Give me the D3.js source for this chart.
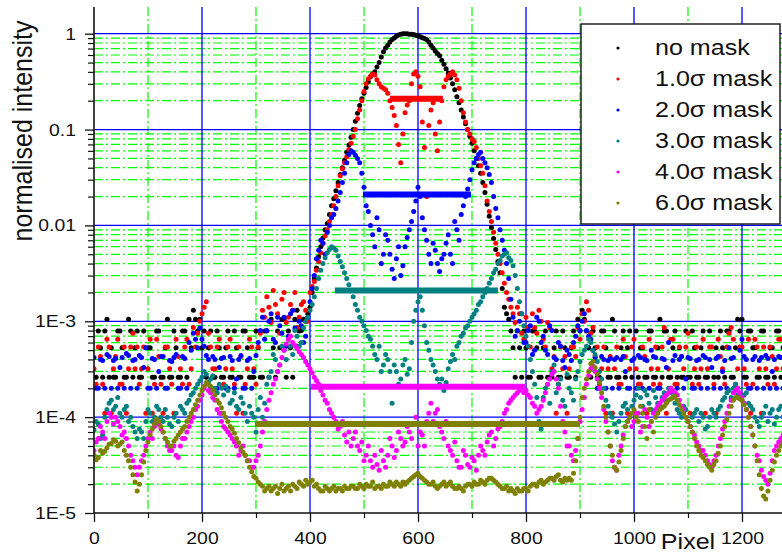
<!DOCTYPE html>
<html>
<head>
<meta charset="utf-8">
<script src="https://cdn.jsdelivr.net/npm/d3@7"></script>
<style>
  body { margin: 0; background: #fff; }
  text { font-family: "Liberation Sans", Arial, sans-serif; fill: #111; }
</style>
</head>
<body>
<div id="chart"></div>
<script>

// Pixel spacing between samples: "A" arrays sit at 0, 8, 16 ... 1280,
// "B" arrays sit half a step later at 4, 12, 20 ... 1276
const step = 8;

// no mask
const noMask = [
  2.6e-4, 7.9e-4, 2.6e-4, 1.05e-3, 5.3e-4, 2.6e-4, 7.9e-4, 2.6e-4, 1.05e-3, 2.6e-4,
  7.9e-4, 2.6e-4, null, 5.3e-4, 2.6e-4, 7.9e-4, 2.6e-4, 1.05e-3, 2.6e-4, 5.3e-4,
  2.6e-4, 7.9e-4, 1.05e-3, 1.3e-3, 7.9e-4, 5.3e-4, 2.6e-4, 7.9e-4, 2.6e-4, 5.3e-4,
  2.6e-4, 7.9e-4, 2.6e-4, 5.3e-4, 2.6e-4, 7.9e-4, 2.6e-4, 2.6e-4, 5.3e-4, 2.6e-4,
  7.9e-4, 1.05e-3, 2.6e-4, 5.3e-4, 1.05e-3, 7.9e-4, 2.6e-4, 1.3e-3, 8e-4, 1.0e-3,
  1.4e-3, 2.8e-3, 4.7e-3, 7.4e-3, 0.0105, 0.016, 0.023, 0.034, 0.048, 0.069,
  0.1, 0.148, 0.21, 0.275, 0.355, 0.40, 0.5, 0.65, 0.76, 0.87,
  0.94, 0.99, 1.0, 0.99, 0.98, 0.95, 0.91, 0.87, 0.76, 0.66,
  0.59, 0.48, 0.39, 0.30, 0.22, 0.16, 0.115, 0.085, 0.06, 0.042,
  0.028, 0.0166, 0.0095, 5.6e-3, 3.2e-3, 1.4e-3, 1.05e-3, 5.3e-4, 7.9e-4, 2.6e-4,
  5.3e-4, 2.6e-4, 7.9e-4, 2.6e-4, 5.3e-4, 2.6e-4, 2.6e-4, 7.9e-4, 2.6e-4, 5.3e-4,
  2.6e-4, 7.9e-4, 1.05e-3, 1.3e-3, 7.9e-4, 2.6e-4, 5.3e-4, 2.6e-4, 7.9e-4, 2.6e-4,
  1.05e-3, 2.6e-4, 5.3e-4, 2.6e-4, 7.9e-4, null, 2.6e-4, 5.3e-4, 2.6e-4, 7.9e-4,
  2.6e-4, 1.05e-3, 7.9e-4, 2.6e-4, 5.3e-4, 2.6e-4, 2.6e-4, 7.9e-4, 2.6e-4, 5.3e-4,
  2.6e-4, 7.9e-4, 2.6e-4, null, 5.3e-4, 7.9e-4, 2.6e-4, 7.9e-4, 2.6e-4, 1.05e-3,
  1.05e-3, 2.6e-4, 7.9e-4, 5.3e-4, 2.6e-4, 7.9e-4, 2.6e-4, 5.3e-4, 7.9e-4, 2.6e-4,
  5.3e-4
];
const noMaskB = [
  2.6e-4, 5.3e-4, 7.9e-4, 2.6e-4, 2.6e-4, 7.9e-4, 5.3e-4, 2.6e-4, 7.9e-4, 5.3e-4,
  2.6e-4, 7.9e-4, 5.3e-4, 2.6e-4, 7.9e-4, 2.6e-4, 5.3e-4, 2.6e-4, 7.9e-4, 2.6e-4,
  7.9e-4, 2.6e-4, 5.3e-4, 1.05e-3, 1.05e-3, 7.9e-4, 5.3e-4, 2.6e-4, 7.9e-4, 2.6e-4,
  5.3e-4, 2.6e-4, 7.9e-4, 2.6e-4, 7.9e-4, 5.3e-4, 2.6e-4, 7.9e-4, 2.6e-4, 7.9e-4,
  2.6e-4, 5.3e-4, 7.9e-4, 1.05e-3, 2.6e-4, 5.3e-4, 1.05e-3, 7.9e-4, 1.05e-3, 1.2e-3,
  2e-3, 3.6e-3, 6e-3, 9e-3, 0.013, 0.019, 0.028, 0.04, 0.058, 0.083,
  0.122, 0.178, 0.24, 0.315, 0.38, 0.45, 0.57, 0.71, 0.82, 0.905,
  0.97, 1.0, 1.0, 0.99, 0.965, 0.93, 0.89, 0.82, 0.71, 0.62,
  0.53, 0.43, 0.345, 0.26, 0.19, 0.135, 0.1, 0.072, 0.05, 0.035,
  0.022, 0.0125, 7.3e-3, 4.2e-3, 2.2e-3, 1.2e-3, 7.9e-4, 2.6e-4, 5.3e-4, 7.9e-4,
  2.6e-4, 7.9e-4, 5.3e-4, 2.6e-4, 7.9e-4, 2.6e-4, 5.3e-4, 2.6e-4, 7.9e-4, 2.6e-4,
  5.3e-4, 2.6e-4, 7.9e-4, 1.05e-3, 5.3e-4, 7.9e-4, 2.6e-4, 7.9e-4, 5.3e-4, 2.6e-4,
  7.9e-4, 2.6e-4, 7.9e-4, 5.3e-4, 2.6e-4, 7.9e-4, 5.3e-4, 2.6e-4, 7.9e-4, 2.6e-4,
  5.3e-4, 2.6e-4, 7.9e-4, 2.6e-4, 7.9e-4, 5.3e-4, 2.6e-4, 2.6e-4, 7.9e-4, 2.6e-4,
  5.3e-4, 2.6e-4, 7.9e-4, 2.6e-4, 2.6e-4, 5.3e-4, 7.9e-4, 2.6e-4, 5.3e-4, 7.9e-4,
  2.6e-4, 7.9e-4, 5.3e-4, 2.6e-4, 7.9e-4, 2.6e-4, 5.3e-4, 2.6e-4, 7.9e-4, 5.3e-4
];

// 1.0 sigma mask
const mask1 = [
  3.2e-4, 5.4e-4, 2.2e-4, 6.5e-4, 1.1e-4, 4.3e-4, 2.2e-4, 5.4e-4, 3.2e-4, 7.5e-4,
  5.4e-4, 3.2e-4, 1.1e-4, 6.5e-4, 2.2e-4, 4.3e-4, 1.1e-4, 5.4e-4, 2.2e-4, 6.5e-4,
  3.2e-4, 5.4e-4, 2.2e-4, 8.6e-4, 7.5e-4, 1.2e-3, 1.6e-3, 5.4e-4, 3.2e-4, 6.5e-4,
  2.2e-4, 5.4e-4, 3.2e-4, 1.1e-4, 4.3e-4, 2.2e-4, 6.5e-4, 3.2e-4, 5.4e-4, 1.3e-3,
  1.8e-3, 9.7e-4, 1.5e-3, 7.5e-4, 2.0e-3, 1.1e-3, 1.3e-3, 8.6e-4, 1.5e-3, 1.3e-3,
  2.0e-3, 2.6e-3, 4.2e-3, 6.5e-3, 9.0e-3, 0.013, 0.02, 0.033, 0.045, 0.062,
  0.085, 0.13, 0.2, 0.3, 0.36, 0.37, 0.3, 0.27, 0.24, 0.17,
  0.11, 0.045, 0.15, 0.2, 0.38, 0.36, 0.12, 0.02, 0.16, 0.09,
  0.12, 0.28, 0.36, 0.4, 0.33, 0.2, 0.12, 0.09, 0.075, 0.05,
  0.035, 0.018, 0.011, 6.5e-3, 4e-3, 2.5e-3, 1.7e-3, 1.2e-3, 1.4e-3, 7.5e-4,
  1.1e-3, 5.4e-4, 8.6e-4, 1.3e-3, 6.5e-4, 9.7e-4, 3.2e-4, 1.1e-4, 5.4e-4, 4.3e-4,
  3.2e-4, 5.4e-4, 8.6e-4, 1.2e-3, 1.6e-3, 7.5e-4, 4.3e-4, 2.2e-4, 5.4e-4, 3.2e-4,
  1.1e-4, 5.4e-4, 2.2e-4, 4.3e-4, 3.2e-4, 6.5e-4, 2.2e-4, 5.4e-4, 1.1e-4, 3.2e-4,
  5.4e-4, 2.2e-4, 8.6e-4, 3.2e-4, 6.5e-4, 2.2e-4, 4.3e-4, 5.4e-4, 1.1e-4, 3.2e-4,
  2.2e-4, 6.5e-4, 3.2e-4, 5.4e-4, 1.1e-4, 4.3e-4, 2.2e-4, 7.5e-4, 6.5e-4, 3.2e-4,
  5.4e-4, 2.2e-4, 1.1e-4, 6.5e-4, 3.2e-4, 5.4e-4, 2.2e-4, 4.3e-4, 3.2e-4, 6.5e-4,
  2.2e-4
];
const mask1B = [
  2.2e-4, 4.3e-4, 1.1e-4, 5.4e-4, 3.2e-4, 6.5e-4, 2.2e-4, 1.1e-4, 5.4e-4, 3.2e-4,
  2.2e-4, 5.4e-4, 3.2e-4, 1.1e-4, 6.5e-4, 2.2e-4, 5.4e-4, 3.2e-4, 1.1e-4, 4.3e-4,
  2.2e-4, 6.5e-4, 3.2e-4, 5.4e-4, 1.0e-3, 1.4e-3, 7.5e-4, 3.2e-4, 5.4e-4, 1.1e-4,
  3.2e-4, 6.5e-4, 2.2e-4, 5.4e-4, 1.1e-4, 3.2e-4, 5.4e-4, 2.2e-4, 7.5e-4, 1.1e-3,
  1.4e-3, 2.1e-3, 1.2e-3, 1.7e-3, 9.7e-4, 1.5e-3, 2.0e-3, 1.1e-3, 1.6e-3, 1.0e-3,
  2.3e-3, 3.4e-3, 5.2e-3, 7.8e-3, 0.011, 0.016, 0.026, 0.039, 0.052, 0.072,
  0.1, 0.16, 0.25, 0.34, 0.38, 0.33, 0.28, 0.26, 0.2, 0.14,
  0.07, 0.09, 0.18, 0.3, 0.4, 0.28, 0.065, 0.11, 0.19, 0.06,
  0.2, 0.33, 0.38, 0.37, 0.27, 0.15, 0.1, 0.08, 0.065, 0.042,
  0.026, 0.014, 8.5e-3, 5e-3, 3.2e-3, 2e-3, 1.4e-3, 9.7e-4, 1.2e-3, 6.5e-4,
  8.6e-4, 1.2e-3, 7.5e-4, 1.0e-3, 5.4e-4, 8.6e-4, 4.3e-4, 2.2e-4, 3.2e-4, 1.1e-4,
  5.4e-4, 4.3e-4, 6.5e-4, 1.0e-3, 1.3e-3, 8.6e-4, 5.4e-4, 3.2e-4, 1.1e-4, 4.3e-4,
  3.2e-4, 2.2e-4, 6.5e-4, 1.1e-4, 5.4e-4, 3.2e-4, 2.2e-4, 4.3e-4, 6.5e-4, 2.2e-4,
  3.2e-4, 5.4e-4, 1.1e-4, 6.5e-4, 2.2e-4, 5.4e-4, 3.2e-4, 7.5e-4, 2.2e-4, 5.4e-4,
  3.2e-4, 1.1e-4, 5.4e-4, 2.2e-4, 6.5e-4, 3.2e-4, 5.4e-4, 8.6e-4, 2.2e-4, 5.4e-4,
  3.2e-4, 6.5e-4, 2.2e-4, 5.4e-4, 1.1e-4, 3.2e-4, 5.4e-4, 2.2e-4, 6.5e-4, 3.2e-4
];

// 2.0 sigma mask
const mask2 = [
  4.2e-4, 2.0e-4, 3.9e-4, 4.5e-4, 2.0e-4, 4.1e-4, 3.3e-4, 2.0e-4, 4.4e-4, 3.9e-4,
  2.0e-4, 4.2e-4, 5.3e-4, 2.0e-4, 4.0e-4, 3.0e-4, 4.3e-4, 2.0e-4, 3.8e-4, 4.5e-4,
  2.0e-4, 4.1e-4, 6.0e-4, 7.5e-4, 5.3e-4, 6.5e-4, 4.4e-4, 2.0e-4, 4.0e-4, 3.3e-4,
  4.2e-4, 2.0e-4, 3.9e-4, 2.5e-4, 4.4e-4, 2.0e-4, 4.1e-4, 3.0e-4, 6.0e-4, 1.1e-3,
  8.0e-4, 1.2e-3, 6.0e-4, 9.0e-4, 1.1e-3, 7.0e-4, 1.3e-3, 5.5e-4, 9e-4, 7e-4,
  1.6e-3, 3e-3, 5.5e-3, 6.5e-3, 8.5e-3, 0.012, 0.015, 0.022, 0.035, 0.055,
  0.058, 0.05, 0.035, 0.016, 0.01, 0.006, 0.009, 0.005, 0.007, 0.0035,
  0.0045, 0.003, 0.006, 0.009, 0.014, 0.025, 0.012, 0.007, 0.004, 0.0055,
  0.0033, 0.005, 0.008, 0.004, 0.009, 0.013, 0.02, 0.03, 0.045, 0.055,
  0.05, 0.04, 0.028, 0.015, 0.009, 0.0055, 0.0028, 1.1e-3, 8e-4, 1.2e-3,
  6e-4, 9e-4, 5e-4, 1.0e-3, 7e-4, 4.5e-4, 8e-4, 4e-4, 5.5e-4, 3.3e-4,
  4.5e-4, 6e-4, 9e-4, 1.0e-3, 8e-4, 6.5e-4, 4.2e-4, 2.0e-4, 4.0e-4, 3.9e-4,
  2.0e-4, 4.2e-4, 4.0e-4, 3.0e-4, 2.0e-4, 4.1e-4, 4.4e-4, 2.0e-4, 3.9e-4, 5.0e-4,
  4.2e-4, 2.0e-4, 4.0e-4, 6.0e-4, 3.9e-4, 2.0e-4, 4.3e-4, 2.5e-4, 4.1e-4, 2.0e-4,
  4.0e-4, 4.4e-4, 2.0e-4, 3.3e-4, 4.1e-4, 2.0e-4, 3.9e-4, 5.3e-4, 4.2e-4, 2.0e-4,
  6.5e-4, 4.0e-4, 2.0e-4, 4.3e-4, 3.9e-4, 2.0e-4, 4.1e-4, 3.0e-4, 2.0e-4, 4.2e-4,
  2.0e-4
];
const mask2B = [
  2.0e-4, 4.0e-4, 2.0e-4, 4.3e-4, 3.9e-4, 2.0e-4, 4.2e-4, 4.6e-4, 2.0e-4, 4.0e-4,
  4.4e-4, 3.3e-4, 2.0e-4, 4.1e-4, 2.0e-4, 4.3e-4, 2.0e-4, 3.9e-4, 4.2e-4, 2.0e-4,
  4.3e-4, 2.0e-4, 5.0e-4, 6.5e-4, 8.5e-4, 5.5e-4, 4.0e-4, 4.3e-4, 2.0e-4, 4.1e-4,
  2.0e-4, 4.3e-4, 2.0e-4, 4.0e-4, 2.0e-4, 3.9e-4, 2.0e-4, 4.4e-4, 8.0e-4, 6.5e-4,
  1.0e-3, 6.5e-4, 1.1e-3, 7.5e-4, 5.5e-4, 1.2e-3, 8.5e-4, 1.0e-3, 6.0e-4, 1.1e-3,
  2.2e-3, 4.5e-3, 7e-3, 5e-3, 0.01, 0.013, 0.018, 0.028, 0.045, 0.06,
  0.054, 0.045, 0.025, 0.014, 0.008, 0.012, 0.004, 0.008, 0.005, 0.0028,
  0.006, 0.0038, 0.0075, 0.011, 0.018, 0.02, 0.009, 0.005, 0.0065, 0.004,
  0.0045, 0.0065, 0.005, 0.011, 0.007, 0.016, 0.024, 0.038, 0.05, 0.058,
  0.045, 0.034, 0.02, 0.012, 0.007, 0.004, 0.0017, 7e-4, 1.0e-3, 6e-4,
  8e-4, 4.5e-4, 1.1e-3, 6e-4, 5e-4, 9e-4, 4.2e-4, 6e-4, 3.9e-4, 5e-4,
  3.9e-4, 7e-4, 8e-4, 1.2e-3, 7e-4, 5e-4, 2.0e-4, 4.3e-4, 2.0e-4, 4.1e-4,
  4.0e-4, 2.0e-4, 4.3e-4, 2.0e-4, 3.9e-4, 2.0e-4, 4.2e-4, 4.0e-4, 2.0e-4, 4.3e-4,
  2.0e-4, 4.1e-4, 3.3e-4, 2.0e-4, 4.4e-4, 4.0e-4, 2.0e-4, 4.2e-4, 2.0e-4, 3.9e-4,
  2.0e-4, 4.2e-4, 4.0e-4, 2.0e-4, 4.3e-4, 3.0e-4, 2.0e-4, 4.1e-4, 2.0e-4, 5.0e-4,
  4.3e-4, 2.0e-4, 4.0e-4, 2.0e-4, 4.2e-4, 4.4e-4, 2.0e-4, 4.0e-4, 4.3e-4, 2.0e-4
];

// 3.0 sigma mask
const mask3 = [
  7.4e-5, 8.5e-5, 6.5e-5, 1.2e-4, 1.5e-4, 1.3e-4, 1.1e-4, 1.2e-4, 9e-5, 8e-5,
  6e-5, 7e-5, 9e-5, 1.1e-4, 1.0e-4, 1.2e-4, 9e-5, 1.0e-4, 8e-5, 1.1e-4,
  1.3e-4, 1.1e-4, 1.5e-4, 1.8e-4, 2.2e-4, 2.6e-4, 2.8e-4, 2.5e-4, 2.0e-4, 2.2e-4,
  1.7e-4, 1.9e-4, 1.5e-4, 1.3e-4, 1.6e-4, 1.1e-4, 1.3e-4, 1.0e-4, 1.2e-4, 1.0e-4,
  2.2e-4, 3e-4, 4e-4, 3.5e-4, 5e-4, 6.5e-4, 4.5e-4, 7e-4, 6e-4, 1.0e-3,
  1.3e-3, 1.8e-3, 2.8e-3, 4e-3, 5.2e-3, 6e-3, 5.5e-3, 4.2e-3, 3.2e-3, 2.4e-3,
  1.8e-3, 1.3e-3, 1.0e-3, 8e-4, 6.5e-4, 4.5e-4, 5.5e-4, 3.5e-4, 4e-4, 1.4e-4,
  3e-4, 2.5e-4, 4e-4, 3.2e-4, 1.0e-3, 1.6e-3, 1.3e-3, 6e-4, 4e-4, 3e-4,
  2.2e-4, 1.9e-4, 3.2e-4, 4.5e-4, 5.5e-4, 7e-4, 8.5e-4, 1.0e-3, 1.2e-3, 1.5e-3,
  1.8e-3, 2.2e-3, 2.8e-3, 3.5e-3, 4.3e-3, 5e-3, 4.6e-3, 3.8e-3, 2.2e-3, 1.2e-3,
  7e-4, 4e-4, 2.2e-4, 9e-5, 1.6e-4, 2.2e-4, 3e-4, 1.8e-4, 2.5e-4, 1.3e-4,
  2e-4, 1.5e-4, 3e-4, 4.5e-4, 5.5e-4, 6e-4, 4.5e-4, 3e-4, 2e-4, 1.3e-4,
  1.0e-4, 7e-5, 1.1e-4, 1.4e-4, 1.0e-4, 1.5e-4, 2e-4, 1.3e-4, 1.7e-4, 1.2e-4,
  1.6e-4, 1.3e-4, 1.8e-4, 2e-4, 1.6e-4, 1.2e-4, 1.0e-4, 1.2e-4, 8e-5, 1.1e-4,
  9e-5, 1.0e-4, 8e-5, 1.2e-4, 1.0e-4, 1.3e-4, 1.6e-4, 1.9e-4, 2e-4, 1.7e-4,
  1.5e-4, 1.8e-4, 1.3e-4, 1.0e-4, 8e-5, 1.1e-4, 9e-5, 1.2e-4, 1.0e-4, 1.3e-4,
  1.1e-4
];
const mask3B = [
  9e-5, 6e-5, 1.0e-4, 1.4e-4, 1.2e-4, 1.6e-4, 1.0e-4, 1.3e-4, 1.0e-4, 7e-5,
  7.5e-5, 6e-5, 1.2e-4, 9e-5, 1.3e-4, 1.0e-4, 1.2e-4, 8.5e-5, 1.0e-4, 9e-5,
  1.2e-4, 1.4e-4, 1.7e-4, 2e-4, 2.4e-4, 3e-4, 2.3e-4, 2.7e-4, 1.8e-4, 2e-4,
  2.1e-4, 1.4e-4, 1.8e-4, 1.2e-4, 1.4e-4, 9e-5, 1.1e-4, 7e-5, 1.6e-4, 1.4e-4,
  2.6e-4, 4.5e-4, 3e-4, 5.5e-4, 4e-4, 5.5e-4, 8e-4, 5.5e-4, 8.5e-4, 1.1e-3,
  1.5e-3, 2.2e-3, 3.4e-3, 4.6e-3, 5.6e-3, 5.8e-3, 4.8e-3, 3.7e-3, 2.8e-3, 2.1e-3,
  1.5e-3, 1.1e-3, 9e-4, 7e-4, 5.5e-4, 4e-4, 3e-4, 4.5e-4, 3e-4, 3.5e-4,
  2.2e-4, 3.5e-4, 2.8e-4, 6e-4, 1.3e-3, 1.8e-3, 9e-4, 5e-4, 3.5e-4, 2.5e-4,
  2.5e-4, 2.3e-4, 3.8e-4, 4e-4, 6e-4, 7.5e-4, 9e-4, 1.1e-3, 1.3e-3, 1.6e-3,
  2.0e-3, 2.5e-3, 3.2e-3, 4e-3, 4.8e-3, 5.2e-3, 4.3e-3, 3e-3, 1.6e-3, 9e-4,
  5.5e-4, 3e-4, 1.6e-4, 7.5e-5, 2e-4, 1.4e-4, 3.5e-4, 2.2e-4, 1.5e-4, 2.8e-4,
  1.8e-4, 2.5e-4, 3.8e-4, 5e-4, 6.5e-4, 5e-4, 3.8e-4, 2.5e-4, 1.5e-4, 1.1e-4,
  8.5e-5, 9e-5, 1.3e-4, 1.2e-4, 1.3e-4, 1.7e-4, 1.6e-4, 1.9e-4, 1.4e-4, 1.9e-4,
  1.4e-4, 1.6e-4, 1.5e-4, 1.8e-4, 1.4e-4, 1.1e-4, 1.3e-4, 9e-5, 1.0e-4, 1.2e-4,
  1.1e-4, 7.5e-5, 1.0e-4, 1.1e-4, 1.2e-4, 1.5e-4, 1.8e-4, 1.6e-4, 2.2e-4, 1.6e-4,
  1.7e-4, 1.4e-4, 1.2e-4, 9e-5, 1.0e-4, 1.3e-4, 1.1e-4, 8.5e-5, 1.2e-4, 1.0e-4
];

// 4.0 sigma mask
const mask4 = [
  4.5e-5, 6e-5, 7e-5, 9e-5, 1.0e-4, 1.0e-4, 8e-5, 7e-5, 5e-5, 3.5e-5,
  2.5e-5, 3.5e-5, 5e-5, 7e-5, 8e-5, 8.5e-5, 7e-5, 5e-5, 4.5e-5, 4e-5,
  5e-5, 6e-5, 8e-5, 1.0e-4, 1.3e-4, 1.7e-4, 2.2e-4, 1.8e-4, 1.5e-4, 1.1e-4,
  8e-5, 7e-5, 6e-5, 5e-5, 4.5e-5, 4e-5, 3.5e-5, 3e-5, 4e-5, 7e-5,
  1.2e-4, 1.8e-4, 2.5e-4, 3.5e-4, 5e-4, 6.5e-4, 6e-4, 5.2e-4, 4.5e-4, 3.8e-4,
  3.2e-4, 2.6e-4, 2.2e-4, 1.7e-4, 1.4e-4, 1.1e-4, 9e-5, 8e-5, 6.5e-5, 7e-5,
  6e-5, 5e-5, 5.5e-5, 4e-5, 3.5e-5, 4e-5, 2.8e-5, 3.5e-5, 4e-5, 5e-5,
  4.5e-5, 6e-5, 5.5e-5, 7e-5, 8.5e-5, 5e-5, 6.5e-5, 9e-5, 1.4e-4, 1.1e-4,
  8e-5, 6e-5, 5e-5, 4e-5, 3.5e-5, 3e-5, 4e-5, 3e-5, 3.5e-5, 4e-5,
  4.5e-5, 5.5e-5, 7e-5, 6e-5, 8e-5, 1.1e-4, 1.4e-4, 1.6e-4, 1.8e-4, 2.0e-4,
  1.9e-4, 1.6e-4, 1.3e-4, 1.2e-4, 1.5e-4, 2.2e-4, 2.8e-4, 2.5e-4, 1.3e-4, 7e-5,
  5e-5, 3.5e-5, 6e-5, 1.2e-4, 2.2e-4, 3.2e-4, 3e-4, 2e-4, 1.2e-4, 7e-5,
  3.5e-5, 2.8e-5, 5e-5, 8e-5, 1.0e-4, 9e-5, 1.1e-4, 8e-5, 1.0e-4, 9e-5,
  1.2e-4, 1.4e-4, 1.6e-4, 1.8e-4, 1.9e-4, 1.7e-4, 1.3e-4, 1.0e-4, 8e-5, 6.5e-5,
  5e-5, 4.5e-5, 3.5e-5, 3e-5, 4e-5, 6e-5, 9e-5, 1.3e-4, 1.8e-4, 2e-4,
  1.6e-4, 1.2e-4, 8e-5, 5e-5, 3.5e-5, 2.4e-5, 2e-5, 3.5e-5, 5e-5, 6e-5,
  7e-5
];
const mask4B = [
  5.5e-5, 8e-5, 6e-5, 1.1e-4, 8.5e-5, 9e-5, 6.5e-5, 6e-5, 4e-5, 3e-5,
  3e-5, 4e-5, 6e-5, 6e-5, 9e-5, 7.5e-5, 6e-5, 4.5e-5, 5e-5, 3.8e-5,
  6e-5, 7e-5, 9e-5, 1.2e-4, 1.5e-4, 2e-4, 1.9e-4, 1.6e-4, 1.2e-4, 9e-5,
  7.5e-5, 6.5e-5, 5.5e-5, 4e-5, 5e-5, 3.5e-5, 3e-5, 3.5e-5, 5e-5, 9e-5,
  1.5e-4, 2.2e-4, 3e-4, 4.2e-4, 5.8e-4, 7e-4, 5.6e-4, 4.8e-4, 4.2e-4, 3.5e-4,
  2.9e-4, 2.4e-4, 1.9e-4, 1.5e-4, 1.2e-4, 1.0e-4, 7.5e-5, 9e-5, 5.5e-5, 5e-5,
  7e-5, 4.5e-5, 3.5e-5, 5e-5, 3e-5, 3.2e-5, 4.5e-5, 3e-5, 6e-5, 3.8e-5,
  7e-5, 5e-5, 8e-5, 6e-5, 1.0e-4, 7e-5, 5e-5, 1.1e-4, 9e-5, 1.2e-4,
  7e-5, 9e-5, 4.5e-5, 5.5e-5, 3e-5, 4.5e-5, 3.2e-5, 3.8e-5, 2.8e-5, 5e-5,
  4e-5, 6.5e-5, 5e-5, 7.5e-5, 9e-5, 1.2e-4, 1.5e-4, 1.7e-4, 1.9e-4, 1.8e-4,
  1.7e-4, 1.4e-4, 1.1e-4, 1.3e-4, 1.8e-4, 2.5e-4, 3e-4, 2e-4, 9e-5, 5e-5,
  4e-5, 4.5e-5, 9e-5, 1.6e-4, 2.7e-4, 3.4e-4, 2.5e-4, 1.6e-4, 9e-5, 5e-5,
  3e-5, 4e-5, 6.5e-5, 9e-5, 8e-5, 1.1e-4, 7e-5, 1.2e-4, 8e-5, 1.1e-4,
  1.3e-4, 1.5e-4, 1.7e-4, 2e-4, 1.8e-4, 1.5e-4, 1.2e-4, 9e-5, 7e-5, 5.5e-5,
  4.5e-5, 4e-5, 3.2e-5, 3.5e-5, 5e-5, 7.5e-5, 1.1e-4, 1.5e-4, 1.9e-4, 1.8e-4,
  1.4e-4, 1.0e-4, 6.5e-5, 4e-5, 2.8e-5, 2.2e-5, 2.6e-5, 4.5e-5, 5.5e-5, 6.5e-5
];

// 6.0 sigma mask
const mask6 = [
  4e-5, 3.8e-5, 4.2e-5, 4.8e-5, 5.3e-5, 5.6e-5, 5.2e-5, 4.5e-5, 3.5e-5, 2.5e-5,
  1.7e-5, 2.5e-5, 4.5e-5, 6.5e-5, 8.5e-5, 9e-5, 7e-5, 5.5e-5, 5e-5, 6e-5,
  7e-5, 8e-5, 1.0e-4, 1.2e-4, 1.5e-4, 1.9e-4, 2.3e-4, 2.1e-4, 1.7e-4, 1.4e-4,
  1.1e-4, 9e-5, 7.5e-5, 6e-5, 4.8e-5, 4e-5, 3e-5, 2.4e-5, 2.1e-5, 1.9e-5,
  1.8e-5, 1.7e-5, 1.9e-5, 1.8e-5, 1.7e-5, 1.9e-5, 2.0e-5, 1.8e-5, 2.0e-5, 2.2e-5,
  2.1e-5, 1.9e-5, 1.8e-5, 1.7e-5, 1.8e-5, 1.8e-5, 1.7e-5, 1.8e-5, 1.9e-5, 1.8e-5,
  1.9e-5, 1.8e-5, 1.9e-5, 2.0e-5, 1.9e-5, 1.8e-5, 1.9e-5, 2.0e-5, 1.9e-5, 2.0e-5,
  2.1e-5, 1.9e-5, 2.0e-5, 2.2e-5, 2.4e-5, 2.6e-5, 2.3e-5, 2.1e-5, 2.0e-5, 1.9e-5,
  1.9e-5, 2.1e-5, 2.0e-5, 1.9e-5, 1.8e-5, 1.8e-5, 1.9e-5, 2.0e-5, 2.1e-5, 2.0e-5,
  2.1e-5, 2.2e-5, 2.3e-5, 2.1e-5, 1.9e-5, 1.8e-5, 1.7e-5, 1.7e-5, 1.8e-5, 1.7e-5,
  1.8e-5, 1.9e-5, 2.0e-5, 2.1e-5, 2.0e-5, 2.2e-5, 2.3e-5, 2.4e-5, 2.2e-5, 2.3e-5,
  2.3e-5, 2.6e-5, 6e-5, 1.6e-4, 2.5e-4, 3.6e-4, 3.3e-4, 2.3e-4, 1.3e-4, 7e-5,
  4e-5, 2.8e-5, 4.5e-5, 8e-5, 1.0e-4, 1.2e-4, 9e-5, 1.1e-4, 6e-5, 9e-5,
  1.0e-4, 1.2e-4, 1.3e-4, 1.5e-4, 1.6e-4, 1.5e-4, 1.2e-4, 1.0e-4, 8e-5, 6e-5,
  4.5e-5, 3.8e-5, 3.2e-5, 2.8e-5, 3.5e-5, 5e-5, 8e-5, 1.1e-4, 1.5e-4, 1.6e-4,
  1.5e-4, 1.2e-4, 8e-5, 5e-5, 2.5e-5, 1.5e-5, 1.7e-5, 2.8e-5, 4e-5, 5e-5,
  6e-5
];
const mask6B = [
  3.6e-5, 4.5e-5, 4.4e-5, 5.2e-5, 5.8e-5, 5e-5, 5.5e-5, 4e-5, 3e-5, 2.1e-5,
  2e-5, 3.4e-5, 5.5e-5, 7.5e-5, 9.5e-5, 8e-5, 6e-5, 5e-5, 5.6e-5, 6.5e-5,
  7.5e-5, 9e-5, 1.1e-4, 1.35e-4, 1.7e-4, 2.1e-4, 2.2e-4, 1.9e-4, 1.5e-4, 1.25e-4,
  1.0e-4, 8e-5, 6.8e-5, 5.4e-5, 4.3e-5, 3.5e-5, 2.7e-5, 2.3e-5, 2.0e-5, 1.7e-5,
  1.9e-5, 1.8e-5, 1.6e-5, 2.0e-5, 1.8e-5, 1.7e-5, 1.9e-5, 2.1e-5, 1.9e-5, 2.0e-5,
  2.2e-5, 2.0e-5, 1.7e-5, 1.9e-5, 1.7e-5, 1.9e-5, 1.8e-5, 1.7e-5, 1.8e-5, 1.9e-5,
  1.8e-5, 2.0e-5, 1.8e-5, 1.9e-5, 2.1e-5, 1.9e-5, 1.8e-5, 1.9e-5, 2.1e-5, 1.9e-5,
  2.0e-5, 2.1e-5, 2.1e-5, 2.3e-5, 2.5e-5, 2.4e-5, 2.2e-5, 2.0e-5, 2.1e-5, 1.8e-5,
  2.0e-5, 1.9e-5, 2.1e-5, 1.8e-5, 1.9e-5, 1.7e-5, 2.0e-5, 1.9e-5, 2.0e-5, 2.2e-5,
  2.0e-5, 2.3e-5, 2.2e-5, 2.0e-5, 1.8e-5, 1.9e-5, 1.8e-5, 1.6e-5, 1.7e-5, 1.8e-5,
  1.7e-5, 2.0e-5, 1.9e-5, 2.2e-5, 2.1e-5, 2.3e-5, 2.2e-5, 2.5e-5, 2.1e-5, 2.2e-5,
  2.2e-5, 3.5e-5, 1.0e-4, 2.0e-4, 3.0e-4, 3.8e-4, 2.8e-4, 1.8e-4, 1.0e-4, 5e-5,
  3e-5, 3.4e-5, 6e-5, 9e-5, 1.1e-4, 1.0e-4, 1.3e-4, 8e-5, 1.2e-4, 7e-5,
  1.1e-4, 1.25e-4, 1.4e-4, 1.55e-4, 1.65e-4, 1.35e-4, 1.1e-4, 9e-5, 7e-5, 5e-5,
  4e-5, 3.5e-5, 3e-5, 3.2e-5, 4.2e-5, 6.5e-5, 9.5e-5, 1.3e-4, 1.6e-4, 1.55e-4,
  1.35e-4, 1.0e-4, 6.5e-5, 3.5e-5, 1.8e-5, 1.4e-5, 2.2e-5, 3.4e-5, 4.5e-5, 5.5e-5
];

// Mask thresholds (level, first pixel, last pixel) for 1, 2, 3, 4, 6 sigma
const maskLevel = [0.21, 0.021, 2.1e-3, 2.07e-4, 8.5e-5];
const maskStart = [548, 498, 446, 402, 298];
const maskEnd = [646, 698, 748, 798, 900];

const legendLabels = ["no mask", "1.0\u03c3 mask", "2.0\u03c3 mask", "3.0\u03c3 mask", "4.0\u03c3 mask", "6.0\u03c3 mask"];
const colors = ["#000000", "#ff0000", "#0000ff", "#008080", "#ff00ff", "#808000"];

// Tick values and labels
const xMajorTicks = [0, 200, 400, 600, 800, 1000, 1200];
const xMinorTicks = [100, 300, 500, 700, 900, 1100];
const yMajorTicks = [1e-5, 1e-4, 1e-3, 0.01, 0.1, 1];
const yTickLabels = ["1E-5", "1E-4", "1E-3", "0.01", "0.1", "1"];

// Set dimensions
const width = 782;
const height = 554;
const plot = {left: 94, right: 790, top: 7, bottom: 513};
// the picture is stretched sideways, text too
const stretch = 1.14;

const svg = d3.select("#chart")
  .append("svg")
  .attr("width", width)
  .attr("height", height);

/*

  Scales

*/

const xScale = d3.scaleLinear()
  .domain([0, 1200])
  .range([plot.left, 742]);

const yScale = d3.scaleLog()
  .domain([1e-5, 1.9])
  .range([plot.bottom, plot.top]);

// minor y ticks at 2..9 of every decade
const yMinorTicks = yMajorTicks.slice(0, 5).flatMap(d => d3.range(2, 10).map(m => m * d));

/*

  Grid

*/

const grid = svg.append("g");

grid.selectAll(".gx-minor")
  .data(xMinorTicks)
  .join("line")
  .attr("x1", d => xScale(d)).attr("x2", d => xScale(d))
  .attr("y1", plot.top).attr("y2", plot.bottom)
  .attr("stroke", "#00ff00").attr("stroke-width", 1.2)
  .attr("stroke-dasharray", "9,3,2,3");

grid.selectAll(".gy-minor")
  .data(yMinorTicks)
  .join("line")
  .attr("x1", plot.left).attr("x2", plot.right)
  .attr("y1", d => yScale(d)).attr("y2", d => yScale(d))
  .attr("stroke", "#00ff00").attr("stroke-width", 1.2)
  .attr("stroke-dasharray", "9,3,2,3");

grid.selectAll(".gx-major")
  .data(xMajorTicks.slice(1))
  .join("line")
  .attr("x1", d => xScale(d)).attr("x2", d => xScale(d))
  .attr("y1", plot.top).attr("y2", plot.bottom)
  .attr("stroke", "#0000ff").attr("stroke-width", 1.3);

grid.selectAll(".gy-major")
  .data(yMajorTicks.slice(1))
  .join("line")
  .attr("x1", plot.left).attr("x2", plot.right)
  .attr("y1", d => yScale(d)).attr("y2", d => yScale(d))
  .attr("stroke", "#0000ff").attr("stroke-width", 1.3);

/*

  Points and mask lines

*/

svg.append("clipPath").attr("id", "clip")
  .append("rect")
  .attr("x", plot.left).attr("y", plot.top)
  .attr("width", plot.right - plot.left).attr("height", plot.bottom - plot.top);

const marks = svg.append("g").attr("clip-path", "url(#clip)");

const seriesA = [noMask, mask1, mask2, mask3, mask4, mask6];
const seriesB = [noMaskB, mask1B, mask2B, mask3B, mask4B, mask6B];

seriesA.forEach((values, s) => {
  const pts = values.map((v, i) => ({px: i * step, v: v}))
    .concat(seriesB[s].map((v, i) => ({px: i * step + step / 2, v: v})))
    .filter(d => d.v != null);

  marks.append("g")
    .selectAll("circle")
    .data(pts)
    .join("circle")
    .attr("cx", d => xScale(d.px))
    .attr("cy", d => yScale(d.v))
    .attr("r", 2.5)
    .attr("fill", colors[s]);

  // threshold line for the masked series
  if (s > 0) {
    marks.append("line")
      .attr("x1", xScale(maskStart[s - 1]))
      .attr("x2", xScale(maskEnd[s - 1]))
      .attr("y1", yScale(maskLevel[s - 1]))
      .attr("y2", yScale(maskLevel[s - 1]))
      .attr("stroke", colors[s])
      .attr("stroke-width", 6);
  }
});

/*

  Axes

*/

// y axis, major and minor ticks
const yAxis = svg.append("g")
  .attr("transform", `translate(${plot.left},0)`)
  .call(d3.axisLeft(yScale)
    .tickValues(yMajorTicks)
    .tickFormat((d, i) => yTickLabels[i])
    .tickSize(9)
    .tickSizeOuter(0));
yAxis.select(".domain").remove();
yAxis.selectAll("line").attr("stroke", "#111").attr("stroke-width", 1.3);
yAxis.selectAll("text")
  .attr("font-size", "17px")
  .attr("font-family", "Liberation Sans, Arial, sans-serif")
  .attr("x", -18 / stretch)
  .attr("transform", `scale(${stretch},1)`);

svg.append("g")
  .attr("transform", `translate(${plot.left},0)`)
  .call(d3.axisLeft(yScale).tickValues(yMinorTicks).tickFormat("").tickSize(6).tickSizeOuter(0))
  .call(g => g.select(".domain").remove())
  .selectAll("line").attr("stroke", "#111").attr("stroke-width", 1.2);

// x axis, major and minor ticks
const xAxis = svg.append("g")
  .attr("transform", `translate(0,${plot.bottom})`)
  .call(d3.axisBottom(xScale)
    .tickValues(xMajorTicks)
    .tickFormat(d3.format("d"))
    .tickSize(9)
    .tickSizeOuter(0));
xAxis.select(".domain").remove();
xAxis.selectAll("line").attr("stroke", "#111").attr("stroke-width", 1.3);
xAxis.selectAll("text")
  .attr("font-size", "17px")
  .attr("font-family", "Liberation Sans, Arial, sans-serif")
  .attr("y", 19)
  .attr("transform", `scale(${stretch},1)`);

svg.append("g")
  .attr("transform", `translate(0,${plot.bottom})`)
  .call(d3.axisBottom(xScale).tickValues(xMinorTicks).tickFormat("").tickSize(5).tickSizeOuter(0))
  .call(g => g.select(".domain").remove())
  .selectAll("line").attr("stroke", "#111").attr("stroke-width", 1.2);

// axis lines
svg.append("line")
  .attr("x1", plot.left).attr("x2", plot.left)
  .attr("y1", plot.top).attr("y2", plot.bottom)
  .attr("stroke", "#111").attr("stroke-width", 1.6);
svg.append("line")
  .attr("x1", plot.left).attr("x2", plot.right)
  .attr("y1", plot.bottom).attr("y2", plot.bottom)
  .attr("stroke", "#111").attr("stroke-width", 1.6);

// axis titles
svg.append("text")
  .attr("transform", `translate(32,131) scale(${stretch},1) rotate(-90)`)
  .attr("text-anchor", "middle")
  .attr("font-size", "25px")
  .text("normalised intensity");

svg.append("text")
  .attr("transform", `translate(688,549) scale(${stretch},1)`)
  .attr("text-anchor", "middle")
  .attr("font-size", "22px")
  .text("Pixel");

/*

  Legend

*/

const legend = svg.append("g");

legend.append("rect")
  .attr("x", 581).attr("y", 24)
  .attr("width", 199).attr("height", 200)
  .attr("fill", "#fff")
  .attr("stroke", "#111")
  .attr("stroke-width", 1.4);

const rows = legend.selectAll(".row")
  .data(legendLabels)
  .join("g")
  .attr("transform", (d, i) => `translate(618,${48 + i * 31})`);

rows.append("circle")
  .attr("r", 1.6)
  .attr("fill", (d, i) => colors[i]);

rows.append("text")
  .attr("transform", `translate(37,0) scale(${stretch},1)`)
  .attr("dy", "0.32em")
  .attr("font-size", "22px")
  .text(d => d);

</script>
</body>
</html>
